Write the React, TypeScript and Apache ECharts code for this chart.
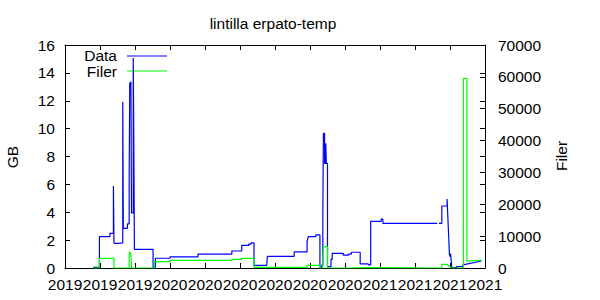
import { useEffect, useRef } from 'react';
import * as echarts from 'echarts';

const FONT = '"Liberation Sans", Arial, sans-serif';

const chartTitle = 'lintilla erpato-temp';
const leftAxisName = 'GB';
const rightAxisName = 'Filer';
const seriesNames = ['Data', 'Filer'];
const seriesColors = ['#0000ff', '#00ff00'];

// x axis: first tick date, tick spacing in days, number of tick intervals
const xStartDate = '2019-08-12';
const xTickDays = 60;
const xTickIntervals = 12;

// left (GB) and right (Filer) axis ranges
const gbRange = [0, 16, 2];
const filerRange = [0, 70000, 10000];

// Data (GB)
const dataPoints: [string, number | null][] = [
  ['2019-09-29', 0.05], ['2019-10-10', 0.05], ['2019-10-10', 2.25], ['2019-10-28', 2.25],
  ['2019-10-28', 2.49], ['2019-11-03', 2.49], ['2019-11-03', 5.88], ['2019-11-04', 1.77],
  ['2019-11-11', 1.77], ['2019-11-11', 1.8], ['2019-11-19', 1.8], ['2019-11-19', 11.93],
  ['2019-11-20', 2.85], ['2019-11-27', 2.85], ['2019-11-27', 3.16], ['2019-11-30', 3.16],
  ['2019-11-30', 6.12], ['2019-12-01', 13.25], ['2019-12-03', 13.36], ['2019-12-04', 3.95],
  ['2019-12-07', 3.95], ['2019-12-07', 15.06], ['2019-12-08', 9.06], ['2019-12-09', 1.34],
  ['2020-01-10', 1.34], ['2020-01-10', 0.05], ['2020-01-14', 0.05], ['2020-01-14', 0.7],
  ['2020-02-08', 0.7], ['2020-02-08', 0.8], ['2020-03-27', 0.8], ['2020-03-27', 1.0],
  ['2020-05-24', 1.0], ['2020-05-24', 1.22], ['2020-06-10', 1.22], ['2020-06-10', 1.63],
  ['2020-06-22', 1.63], ['2020-06-22', 1.72], ['2020-06-26', 1.72], ['2020-06-26', 1.8],
  ['2020-07-01', 1.8], ['2020-07-01', 0.19], ['2020-07-23', 0.19], ['2020-07-23', 0.29],
  ['2020-07-24', 0.29], ['2020-07-24', 0.84], ['2020-09-08', 0.84], ['2020-09-08', 1.15],
  ['2020-09-30', 1.15], ['2020-09-30', 1.9], ['2020-10-02', 2.25], ['2020-10-15', 2.25],
  ['2020-10-15', 2.37], ['2020-10-22', 2.37], ['2020-10-22', 0.05], ['2020-10-25', 0.05],
  ['2020-10-25', 0.2], ['2020-10-27', 0.2], ['2020-10-27', 3.87], ['2020-10-28', 3.87],
  ['2020-10-28', 9.66], ['2020-10-30', 9.66], ['2020-10-30', 7.5], ['2020-11-01', 7.5],
  ['2020-11-01', 8.95], ['2020-11-02', 7.5], ['2020-11-04', 7.5], ['2020-11-04', 0.1],
  ['2020-11-10', 0.1], ['2020-11-10', 0.62], ['2020-11-12', 0.62], ['2020-11-12', 1.05],
  ['2020-12-01', 1.05], ['2020-12-01', 0.93], ['2020-12-10', 0.93], ['2020-12-10', 1.0],
  ['2020-12-15', 1.0], ['2020-12-15', 1.13], ['2020-12-30', 1.13], ['2020-12-30', 0.29],
  ['2021-01-13', 0.29], ['2021-01-13', 0.22], ['2021-01-17', 0.22], ['2021-01-17', 3.35],
  ['2021-02-04', 3.35], ['2021-02-04', 3.5], ['2021-02-07', 3.5], ['2021-02-07', 3.2],
  ['2021-05-11', 3.2], ['2021-05-12', null], ['2021-05-14', 3.2], ['2021-05-19', 3.2],
  ['2021-05-19', 4.45], ['2021-05-28', 4.45], ['2021-05-28', 4.95], ['2021-06-01', 1.0],
  ['2021-06-02', 0.81], ['2021-06-03', 1.04], ['2021-06-04', 0.57], ['2021-06-05', 0.02],
  ['2021-06-13', 0.02], ['2021-06-13', 0.1], ['2021-06-24', 0.1], ['2021-06-24', 0.22],
  ['2021-07-26', 0.5],
];

// Filer (file count)
const filerPoints: [string, number][] = [
  ['2019-09-29', 0], ['2019-10-10', 0], ['2019-10-10', 3050], ['2019-11-04', 3050],
  ['2019-11-04', 0], ['2019-11-30', 0], ['2019-11-30', 3860], ['2019-12-01', 5120],
  ['2019-12-03', 4170], ['2019-12-04', 0], ['2020-01-12', 0], ['2020-01-12', 1980],
  ['2020-02-08', 1980], ['2020-02-08', 2420], ['2020-05-24', 2420], ['2020-05-24', 2700],
  ['2020-06-10', 2700], ['2020-06-10', 3000], ['2020-07-01', 3000], ['2020-07-01', 220],
  ['2020-09-30', 220], ['2020-09-30', 850], ['2020-10-22', 850], ['2020-10-22', 0],
  ['2020-10-27', 0], ['2020-10-27', 3550], ['2020-10-28', 6690], ['2020-11-04', 6690],
  ['2020-11-04', 0], ['2020-12-15', 0], ['2020-12-15', 100], ['2021-01-13', 100],
  ['2021-01-13', 0], ['2021-05-19', 0], ['2021-05-19', 1160], ['2021-05-28', 1160],
  ['2021-06-04', 0], ['2021-06-25', 0], ['2021-06-25', 59500], ['2021-07-01', 59500],
  ['2021-07-01', 2170], ['2021-07-26', 2480],
];

const DAY = 86400000;

export default function App() {
  const ref = useRef<HTMLDivElement>(null);

  useEffect(() => {
    if (!ref.current) return;
    const chart = echarts.init(ref.current, undefined, { renderer: 'svg' });

    const xMin = Date.parse(xStartDate);
    const xInterval = xTickDays * DAY;
    const xMax = xMin + xTickIntervals * xInterval;

    const toSeries = (pts: [string, number | null][]) =>
      pts.map(([d, v]) => [Date.parse(d), v === null ? '-' : v]);

    const FS = 15.5;
    const tickStyle = { show: true, inside: true, length: 5, lineStyle: { color: '#000', width: 1 } };
    const lineStyle = { show: true, onZero: false, lineStyle: { color: '#000', width: 1 } };
    const labelBase = { color: '#000', fontSize: FS, fontFamily: FONT };
    const textFont = `${FS}px ${FONT}`;

    const xCommon = {
      type: 'value',
      min: xMin,
      max: xMax,
      interval: xInterval,
      splitLine: { show: false },
      axisLine: lineStyle,
      axisTick: tickStyle,
    };

    const option: any = {
      animation: false,
      textStyle: { fontFamily: FONT },
      title: {
        text: chartTitle,
        left: 273,
        top: 15,
        textAlign: 'center',
        padding: 0,
        textStyle: { ...labelBase, fontWeight: 'normal' },
      },
      grid: { left: 65, right: 115, top: 45, bottom: 32, containLabel: false },
      xAxis: [
        {
          ...xCommon,
          position: 'bottom',
          axisLabel: {
            ...labelBase,
            margin: 8,
            formatter: (v: number) => String(new Date(v).getUTCFullYear()),
          },
        },
        { ...xCommon, position: 'top', axisLabel: { show: false } },
      ],
      yAxis: [
        {
          type: 'value',
          position: 'left',
          min: gbRange[0],
          max: gbRange[1],
          interval: gbRange[2],
          splitLine: { show: false },
          axisLine: lineStyle,
          axisTick: tickStyle,
          axisLabel: { ...labelBase, margin: 10, formatter: (v: number) => String(v) },
        },
        {
          type: 'value',
          position: 'right',
          min: filerRange[0],
          max: filerRange[1],
          interval: filerRange[2],
          splitLine: { show: false },
          axisLine: lineStyle,
          axisTick: tickStyle,
          axisLabel: { ...labelBase, margin: 13, formatter: (v: number) => String(v) },
        },
        {
          type: 'value',
          position: 'right',
          min: gbRange[0],
          max: gbRange[1],
          interval: gbRange[2],
          splitLine: { show: false },
          axisLine: { show: false },
          axisTick: tickStyle,
          axisLabel: { show: false },
        },
      ],
      series: [
        {
          name: seriesNames[0],
          type: 'line',
          xAxisIndex: 0,
          yAxisIndex: 0,
          data: toSeries(dataPoints),
          showSymbol: false,
          symbol: 'none',
          connectNulls: false,
          lineStyle: { color: seriesColors[0], width: 1.2 },
          itemStyle: { color: seriesColors[0] },
        },
        {
          name: seriesNames[1],
          type: 'line',
          xAxisIndex: 0,
          yAxisIndex: 1,
          data: toSeries(filerPoints),
          showSymbol: false,
          symbol: 'none',
          lineStyle: { color: seriesColors[1], width: 1.2 },
          itemStyle: { color: seriesColors[1] },
        },
      ],
      graphic: [
        {
          type: 'text',
          x: 12.5,
          y: 157,
          rotation: Math.PI / 2,
          style: { text: leftAxisName, font: textFont, fill: '#000', textAlign: 'center', textVerticalAlign: 'middle' },
        },
        {
          type: 'text',
          x: 561,
          y: 156,
          rotation: Math.PI / 2,
          style: { text: rightAxisName, font: textFont, fill: '#000', textAlign: 'center', textVerticalAlign: 'middle' },
        },
        {
          type: 'text',
          x: 117,
          y: 55,
          style: { text: seriesNames[0], font: textFont, fill: '#000', textAlign: 'right', textVerticalAlign: 'middle' },
        },
        {
          type: 'line',
          shape: { x1: 127, y1: 56, x2: 167, y2: 56 },
          style: { stroke: seriesColors[0], lineWidth: 1.2 },
        },
        {
          type: 'text',
          x: 117,
          y: 71,
          style: { text: seriesNames[1], font: textFont, fill: '#000', textAlign: 'right', textVerticalAlign: 'middle' },
        },
        {
          type: 'line',
          shape: { x1: 127, y1: 71, x2: 167, y2: 71 },
          style: { stroke: seriesColors[1], lineWidth: 1.2 },
        },
      ],
    };

    chart.setOption(option);
    return () => chart.dispose();
  }, []);

  return (
    <div
      ref={ref}
      style={{ position: 'fixed', left: 0, top: 0, width: 600, height: 300, background: '#fff' }}
    />
  );
}
